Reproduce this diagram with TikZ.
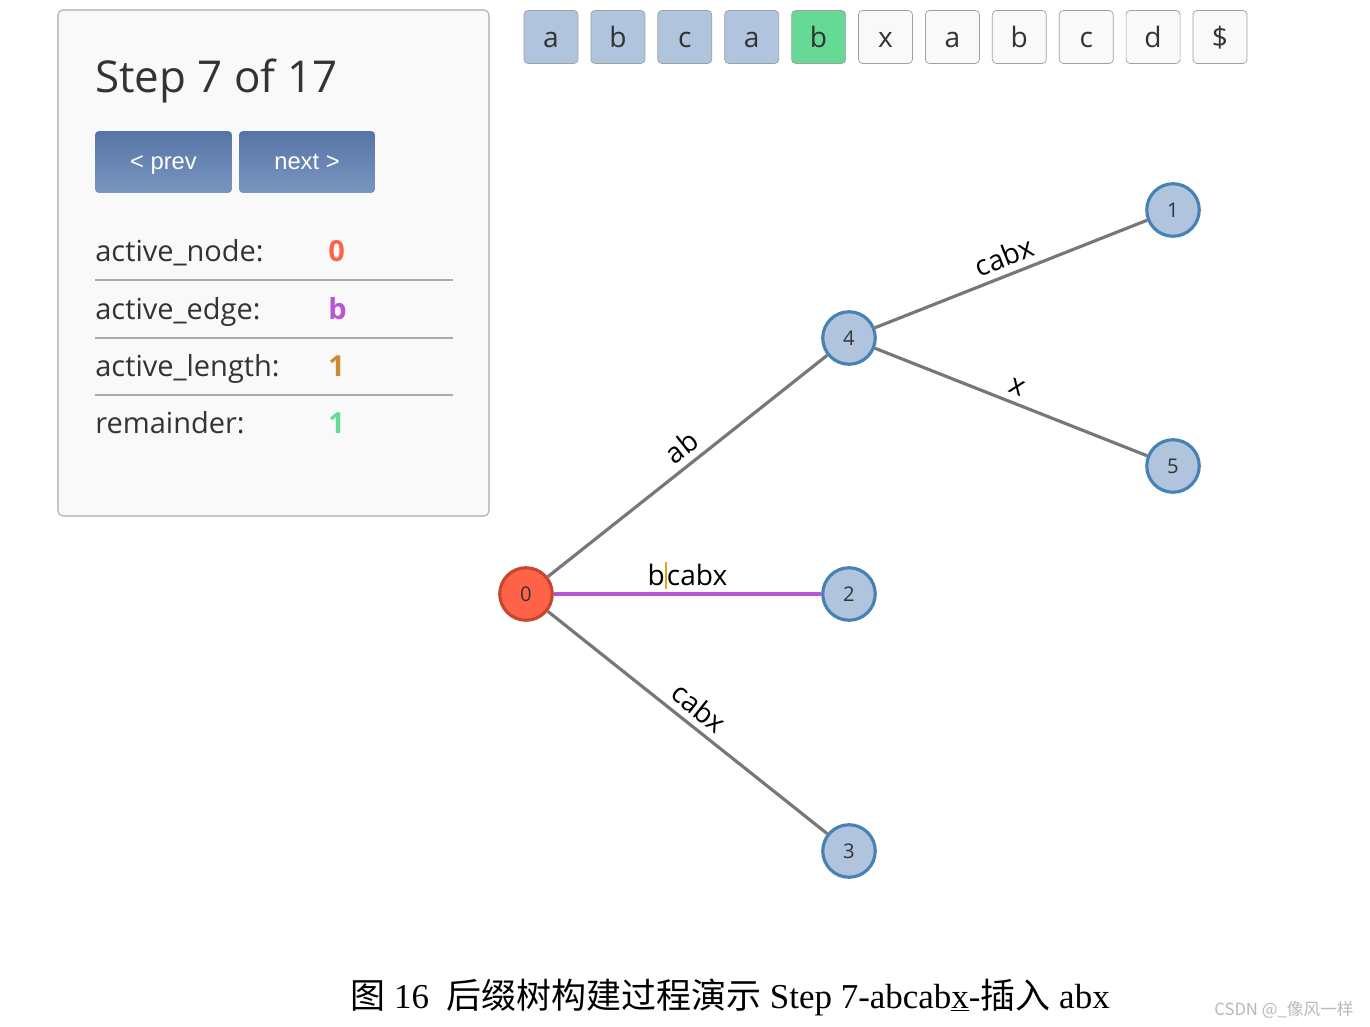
\documentclass[tikz,border=0pt]{standalone}
\usepackage{fontspec}
\setmainfont{Liberation Serif}
\newfontfamily\uifont{Open Sans}
\newfontfamily\btnfont{Liberation Sans}
\newfontfamily\cjk{Noto Sans CJK SC}
\usepackage{tikz}
\usetikzlibrary{positioning}

\definecolor{panelbg}{HTML}{F9F9F9}
\definecolor{panelrule}{HTML}{ABABAB}
\definecolor{txtdark}{HTML}{333333}
\definecolor{btntop}{HTML}{5675A6}
\definecolor{btnbot}{HTML}{7A95C0}
\definecolor{nodefill}{HTML}{B0C4DE}
\definecolor{noderim}{HTML}{4682B4}
\definecolor{activefill}{HTML}{FF6347}
\definecolor{activerim}{HTML}{C8462F}
\definecolor{edgegray}{HTML}{777777}
\definecolor{edgeact}{HTML}{BA55D3}
\definecolor{valnode}{HTML}{FF6347}
\definecolor{valedge}{HTML}{BA55D3}
\definecolor{vallen}{HTML}{CD8A2E}
\definecolor{valrem}{HTML}{66D994}
\definecolor{boxdone}{HTML}{B0C4DE}
\definecolor{boxcur}{HTML}{66D994}
\definecolor{boxrest}{HTML}{F9F9F9}
\definecolor{boxrim}{HTML}{A0A0A0}
\definecolor{cursorbar}{HTML}{DAA520}
\definecolor{wmcolor}{HTML}{B8B8B8}

\begin{document}
\begin{tikzpicture}[x=0.02cm,y=-0.02cm,
  chbox/.style={draw=boxrim,rounded corners=0.08cm,minimum width=1.08cm,minimum height=1.06cm,
    inner sep=0pt,text=txtdark,text height=15pt,text depth=2.6pt,font=\uifont\fontsize{16}{19}\selectfont},
  btn/.style={rounded corners=0.08cm,top color=btntop,bottom color=btnbot,minimum height=1.24cm,
    inner sep=0pt,text=white,text height=10.5pt,text depth=1.5pt,font=\btnfont\fontsize{13.5}{16}\selectfont},
  row/.style={anchor=base west,inner sep=0pt,text=txtdark,font=\uifont\fontsize{16.5}{20}\selectfont},
  val/.style={anchor=base west,inner sep=0pt,font=\uifont\bfseries\fontsize{16.5}{20}\selectfont},
  tnode/.style={circle,draw=noderim,fill=nodefill,line width=1.8pt,minimum size=1.05cm,
    inner sep=0pt,text=txtdark,font=\uifont\fontsize{11.5}{13}\selectfont},
  edge/.style={draw=edgegray,line width=1.8pt},
  lbl/.style={sloped,above,inner sep=4pt,text depth=0pt,font=\uifont\fontsize{16}{19}\selectfont}]
  \useasboundingbox (0,0) rectangle (1370,1027);

  % control panel
  \draw[panelrule,fill=panelbg,rounded corners=0.1cm,line width=0.6pt] (58,10) rectangle (489,516);
  \node[row,font=\uifont\fontsize{25}{30}\selectfont] (title) at (95,93) {Step 7 of 17};
  \node[btn,minimum width=2.74cm] (prev) at (163.5,162) {< prev};
  \node[btn,minimum width=2.72cm] (next) at (307,162) {next >};
  \foreach \lab/\v/\c/\yb [count=\i] in {active\_node:/0/valnode/262,active\_edge:/b/valedge/320,
      active\_length:/1/vallen/377,remainder:/1/valrem/434}{
    \node[row] (row\i) at (95,\yb) {\lab};
    \node[val,text=\c] (val\i) at (328,\yb) {\v};
  }
  \foreach \yl in {280,338,395}
    \draw[panelrule,line width=0.9pt] (95,\yl) -- (453,\yl);

  % string
  \foreach \ch/\fc [count=\i] in {a/boxdone,b/boxdone,c/boxdone,a/boxdone,b/boxcur,x/boxrest,
      a/boxrest,b/boxrest,c/boxrest,d/boxrest,\$/boxrest}
    \node[chbox,fill=\fc] (ch\i) at ({551+(\i-1)*66.9},37) {\ch};

  % suffix tree
  \node[tnode,fill=activefill,draw=activerim] (n0) at (526,594) {0};
  \node[tnode] (n4) at (849,338) {4};
  \node[tnode] (n1) at (1173,210) {1};
  \node[tnode] (n5) at (1173,466) {5};
  \node[tnode] (n2) at (849,594) {2};
  \node[tnode] (n3) at (849,851) {3};
  \draw[edge] (n0) -- node[lbl,pos=0.52] {ab} (n4);
  \draw[edge] (n4) -- node[lbl] {cabx} (n1);
  \draw[edge] (n4) -- node[lbl] {x} (n5);
  \draw[edge,draw=edgeact] (n0) -- node[lbl] {b\textcolor{cursorbar}{\rule[-0.12em]{0.07em}{0.95em}}cabx} (n2);
  \draw[edge] (n0) -- node[lbl] {cabx} (n3);

  % caption
  \node[anchor=base west,inner sep=0pt,font=\fontsize{19.9}{23}\selectfont] (caption) at (350,1008)
    {{\cjk 图} 16\ \ {\cjk 后缀树构建过程演示} Step 7-abcab\underline{x}-{\cjk 插入} abx};
  \node[anchor=base east,inner sep=0pt,text=wmcolor,font=\cjk\fontsize{9.5}{11}\selectfont] (wm) at (1354,1015)
    {CSDN @\_像风一样};
\end{tikzpicture}
\end{document}
